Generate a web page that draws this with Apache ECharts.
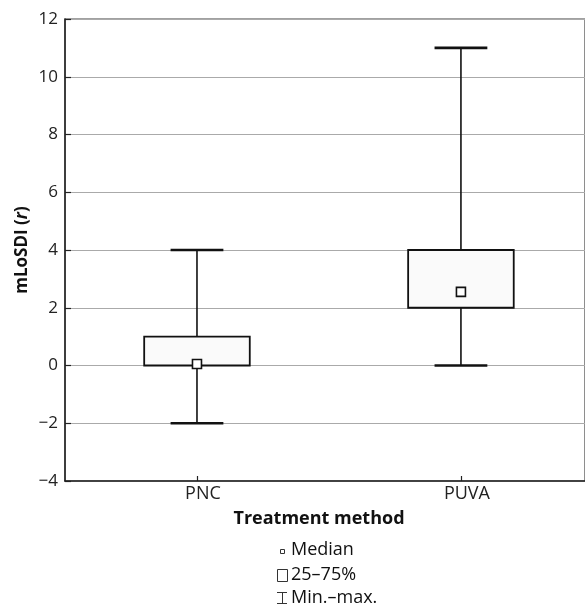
<!DOCTYPE html>
<html>
<head>
<meta charset="utf-8">
<script src="https://cdn.jsdelivr.net/npm/echarts@6/dist/echarts.min.js"></script>
<style>html,body{margin:0;padding:0;background:#fff}#c{width:585px;height:605px}</style>
</head>
<body>
<div id="c"></div>
<script>
const categories = ['PNC', 'PUVA'];
const minValues = [-2, 0];
const q1Values = [0, 2];
const medianValues = [0.05, 2.55];
const q3Values = [1, 4];
const maxValues = [4, 11];
const yTicks = [-4, -2, 0, 2, 4, 6, 8, 10, 12];
const legendLabels = ['Median', '25–75%', 'Min.–max.'];

const FONT = '"Open Sans"';
const catIdx = categories.map((c, i) => i);
const boxData = categories.map((c, i) => [i, minValues[i], q1Values[i], medianValues[i], q3Values[i], maxValues[i]]);

function renderItem(params, api) {
  const xi = api.value(0);
  const bw = api.size([1, 0])[0];
  const half = bw * 0.2;
  const capHalf = bw * 0.1;
  const pMin = api.coord([xi, api.value(1)]);
  const pQ1 = api.coord([xi, api.value(2)]);
  const pMed = api.coord([xi, api.value(3)]);
  const pQ3 = api.coord([xi, api.value(4)]);
  const pMax = api.coord([xi, api.value(5)]);
  const cx = pMed[0];
  const lineStyle = {stroke: '#111', lineWidth: 1.6, fill: null};
  const capStyle = {stroke: '#111', lineWidth: 2.6, fill: null};
  return {
    type: 'group',
    children: [
      {type: 'line', shape: {x1: cx, y1: pMax[1], x2: cx, y2: pQ3[1]}, style: lineStyle},
      {type: 'line', shape: {x1: cx, y1: pQ1[1], x2: cx, y2: pMin[1]}, style: lineStyle},
      {type: 'line', shape: {x1: cx - capHalf, y1: pMax[1], x2: cx + capHalf, y2: pMax[1]}, style: capStyle},
      {type: 'line', shape: {x1: cx - capHalf, y1: pMin[1], x2: cx + capHalf, y2: pMin[1]}, style: capStyle},
      {type: 'rect', shape: {x: cx - half, y: pQ3[1], width: 2 * half, height: pQ1[1] - pQ3[1]},
        style: {fill: '#fafafa', stroke: '#111', lineWidth: 1.8}},
      {type: 'rect', shape: {x: cx - 4.5, y: pMed[1] - 4.5, width: 9, height: 9},
        style: {fill: '#fff', stroke: '#111', lineWidth: 1.6}}
    ]
  };
}

const chart = echarts.init(document.getElementById('c'), null, {renderer: 'canvas'});
chart.setOption({
  backgroundColor: '#fff',
  animation: false,
  grid: {left: 65, right: 0, top: 19, bottom: 124, show: true, borderColor: '#444', borderWidth: 1.2, backgroundColor: 'transparent'},
  xAxis: {
    type: 'value',
    min: -0.5,
    max: 1.47,
    name: 'Treatment method',
    nameLocation: 'middle',
    nameGap: 29,
    nameTextStyle: {fontFamily: FONT, fontSize: 18, fontWeight: 'bold', color: '#111', padding: [0, 12, 0, 0]},
    axisLine: {onZero: false, lineStyle: {color: '#222', width: 1.5}},
    axisTick: {show: true, inside: true, length: 5, customValues: catIdx, lineStyle: {color: '#222', width: 1.2}},
    axisLabel: {fontFamily: FONT, fontSize: 18, color: '#222', margin: 4, padding: [0, 0, 0, 12],
      customValues: catIdx, formatter: v => categories[Math.round(v)] || ''},
    splitLine: {show: false}
  },
  yAxis: {
    type: 'value',
    min: yTicks[0],
    max: yTicks[yTicks.length - 1],
    interval: 2,
    name: 'mLoSDI ({i|r})',
    nameLocation: 'middle',
    nameGap: 34,
    nameMoveOverlap: false,
    nameTextStyle: {fontFamily: FONT, fontSize: 17, fontWeight: 'bold', color: '#111',
      rich: {i: {fontFamily: FONT, fontSize: 17, fontWeight: 'bold', fontStyle: 'italic', color: '#111'}}},
    axisLine: {show: true, onZero: false, lineStyle: {color: '#222', width: 1.5}},
    axisTick: {show: true, inside: true, length: 6, lineStyle: {color: '#222', width: 1.2}},
    axisLabel: {fontFamily: FONT, fontSize: 17, color: '#222', margin: 7,
      formatter: v => (v < 0 ? '\u2212' + Math.abs(v) : String(v))},
    splitLine: {show: true, lineStyle: {color: '#aaa', width: 1}}
  },
  series: [{
    type: 'custom',
    renderItem: renderItem,
    encode: {x: 0, y: [1, 2, 3, 4, 5]},
    data: boxData,
    z: 10
  }],
  graphic: [
    {type: 'rect', shape: {x: 280.5, y: 549.5, width: 4, height: 4}, style: {fill: '#fff', stroke: '#333', lineWidth: 1}},
    {type: 'text', x: 291, y: 550, style: {text: legendLabels[0], font: '18px ' + FONT, fill: '#111', verticalAlign: 'middle'}},
    {type: 'rect', shape: {x: 277.5, y: 569.5, width: 10, height: 12}, style: {fill: '#fff', stroke: '#333', lineWidth: 1}},
    {type: 'text', x: 291, y: 575, style: {text: legendLabels[1], font: '18px ' + FONT, fill: '#111', verticalAlign: 'middle'}},
    {type: 'line', shape: {x1: 277, y1: 592.5, x2: 287, y2: 592.5}, style: {stroke: '#333', lineWidth: 1}},
    {type: 'line', shape: {x1: 282.5, y1: 592, x2: 282.5, y2: 604}, style: {stroke: '#333', lineWidth: 1}},
    {type: 'line', shape: {x1: 277, y1: 603.5, x2: 287, y2: 603.5}, style: {stroke: '#333', lineWidth: 1}},
    {type: 'text', x: 291, y: 598, style: {text: legendLabels[2], font: '18px ' + FONT, fill: '#111', verticalAlign: 'middle'}}
  ]
});
</script>
</body>
</html>
